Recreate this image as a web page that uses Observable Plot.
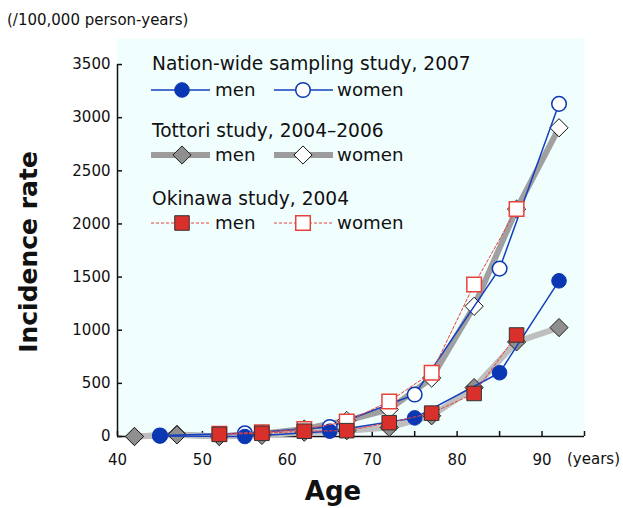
<!DOCTYPE html>
<html>
<head>
<meta charset="utf-8">
<script src="https://cdn.jsdelivr.net/npm/d3@7"></script>
<script src="https://cdn.jsdelivr.net/npm/@observablehq/plot@0.6"></script>
<style>
html, body { margin: 0; padding: 0; background: #fff; }
</style>
</head>
<body>
<div id="chart"></div>
<script>
// ---- data ----
const nationAges = [45, 55, 65, 75, 85, 92];
const nationMen = [5, 0, 50, 175, 600, 1465];
const nationWomen = [10, 30, 90, 395, 1580, 3130];

const tottoriAges = [42, 47, 52, 57, 62, 67, 72, 77, 82, 87, 92];
const tottoriMen = [0, 15, 0, 10, 40, 55, 85, 195, 460, 890, 1025];
const tottoriWomen = [0, 20, 0, 25, 70, 150, 255, 550, 1225, 2140, 2905];

const okinawaAges = [52, 57, 62, 67, 72, 77, 82, 87];
const okinawaMen = [20, 30, 50, 55, 130, 220, 405, 955];
const okinawaWomen = [25, 40, 70, 140, 330, 600, 1430, 2140];

const yTicks = [0, 500, 1000, 1500, 2000, 2500, 3000, 3500];
const xTickLabels = [40, 50, 60, 70, 80, 90];
const xTicks = [40, 45, 50, 55, 60, 65, 70, 75, 80, 85, 90, 95];

const studyTitles = ["Nation-wide sampling study, 2007", "Tottori study, 2004\u20132006", "Okinawa study, 2004"];
const sexLabels = ["men", "women"];
const unitLabel = "(/100,000 person-years)";
const yTitle = "Incidence rate";
const xTitle = "Age";
const xUnit = "(years)";

// ---- tables built from the arrays ----
const rows = (ages, men, women) => ages.map((age, i) => ({age, men: men[i], women: women[i]}));
const nation = rows(nationAges, nationMen, nationWomen);
const tottori = rows(tottoriAges, tottoriMen, tottoriWomen);
const okinawa = rows(okinawaAges, okinawaMen, okinawaWomen);

// ---- styles ----
const BG = "#f0fefe";
const BLUE = "#0a37b3";
const BLUE_LINE = "#1540bd";
const RED = "#d9302b";
const RED_LINE = "#e8423d";
const GRAY_W = "#a0a0a0";
const GRAY_M = "#bfbfbf";
const GRAY_FILL = "#8f8f8f";
const FONT = "DejaVu Sans";

const W = 623, H = 508;
const mL = 117, mR = 39, mT = 38, mB = 72;
const innerW = W - mL - mR, innerH = H - mT - mB;

const styles = [
  { // nation
    line: {stroke: BLUE_LINE, strokeWidth: 1.5},
    men: {symbol: "circle", r: 7.3, fill: BLUE, stroke: BLUE, strokeWidth: 1},
    women: {symbol: "circle", r: 7.3, fill: "white", stroke: BLUE, strokeWidth: 1.5}
  },
  { // tottori
    line: {stroke: GRAY_W, strokeWidth: 6},
    men: {symbol: "diamond2", r: 8.2, fill: GRAY_FILL, stroke: "#222", strokeWidth: 1},
    women: {symbol: "diamond2", r: 8.2, fill: "white", stroke: "#111", strokeWidth: 1}
  },
  { // okinawa
    line: {stroke: RED_LINE, strokeWidth: 1, strokeDasharray: "3,2"},
    men: {symbol: "square", r: 8.2, fill: RED, stroke: "#333", strokeWidth: 1},
    women: {symbol: "square", r: 8.2, fill: "white", stroke: RED_LINE, strokeWidth: 1.5}
  }
];

const symbolTypes = {circle: d3.symbolCircle, diamond2: d3.symbolDiamond2, square: d3.symbolSquare};

function decorations() {
  const g = d3.create("svg:g").attr("font-family", FONT).attr("fill", "#111").attr("text-anchor", "start");
  // unit label
  g.append("text").attr("x", 7).attr("y", 25).attr("font-size", 15).attr("text-anchor", "start").text(unitLabel);
  // y title
  g.append("text").attr("transform", "translate(37,252) rotate(-90)")
    .attr("text-anchor", "middle").attr("font-size", 25).attr("font-weight", "bold").text(yTitle);
  // x title
  g.append("text").attr("x", 333).attr("y", 500).attr("text-anchor", "middle")
    .attr("font-size", 26).attr("font-weight", "bold").text(xTitle);
  // x unit
  g.append("text").attr("x", 567).attr("y", 464).attr("font-size", 15).attr("text-anchor", "start").text(xUnit);

  // legend
  const titleY = [70, 137, 205];
  const lineY = [90, 155, 223];
  const segs = [{x1: 151, x2: 210, mx: 182, tx: 215}, {x1: 274, x2: 333, mx: 303, tx: 337}];
  studyTitles.forEach((title, i) => {
    g.append("text").attr("x", 152).attr("y", titleY[i]).attr("font-size", 18.6).attr("text-anchor", "start").text(title);
    const st = styles[i];
    ["men", "women"].forEach((sex, j) => {
      const s = segs[j];
      const lw = i === 1 ? 6 : st.line.strokeWidth;
      g.append("line").attr("x1", s.x1).attr("x2", s.x2).attr("y1", lineY[i]).attr("y2", lineY[i])
        .attr("stroke", i === 1 ? "#9c9c9c" : st.line.stroke).attr("stroke-width", lw)
        .attr("stroke-dasharray", st.line.strokeDasharray || null);
      const m = st[sex];
      g.append("path")
        .attr("transform", `translate(${s.mx},${lineY[i]})`)
        .attr("d", d3.symbol(symbolTypes[m.symbol], Math.PI * m.r * m.r)())
        .attr("fill", m.fill).attr("stroke", m.stroke).attr("stroke-width", m.strokeWidth);
      g.append("text").attr("x", s.tx).attr("y", lineY[i] + 5.5).attr("font-size", 18.2)
        .attr("text-anchor", "start").text(sexLabels[j]);
    });
  });
  return g.node();
}

function seriesMarks(data, st) {
  return [
    Plot.line(data, {x: "age", y: "women", ...st.line, stroke: st === styles[1] ? GRAY_W : st.line.stroke}),
    Plot.line(data, {x: "age", y: "men", ...st.line, stroke: st === styles[1] ? GRAY_M : st.line.stroke}),
    Plot.dot(data, {x: "age", y: "women", ...st.women}),
    Plot.dot(data, {x: "age", y: "men", ...st.men})
  ];
}

const chart = Plot.plot({
  width: W,
  height: H,
  marginLeft: mL,
  marginRight: mR,
  marginTop: mT,
  marginBottom: mB,
  x: {domain: [40, 95]},
  y: {domain: [0, 3745]},
  style: {fontFamily: FONT, fontSize: "15px", color: "#111", background: "white", overflow: "visible"},
  marks: [
    Plot.frame({fill: BG, stroke: null}),
    // axis lines
    Plot.ruleX([40], {y1: 0, y2: 3500, stroke: "#111", strokeWidth: 1.5}),
    Plot.ruleY([0], {x1: 40, x2: 95, stroke: "#111", strokeWidth: 1.5}),
    // inward ticks
    Plot.tickY(yTicks, {y: d => d, insetRight: innerW - 5, stroke: "#111", strokeWidth: 1.5}),
    Plot.tickX(xTicks, {x: d => d, insetTop: innerH - 5, stroke: "#111", strokeWidth: 1.5}),
    // tick labels
    Plot.axisY({ticks: yTicks, tickSize: 0, tickPadding: 7, label: null, tickFormat: d => String(d), fontSize: 15}),
    Plot.axisX({ticks: xTickLabels, tickSize: 0, tickPadding: 18, label: null, tickFormat: d => String(d), fontSize: 15}),
    // data
    ...seriesMarks(tottori, styles[1]),
    ...seriesMarks(nation, styles[0]),
    ...seriesMarks(okinawa, styles[2]),
    decorations
  ]
});

document.getElementById("chart").appendChild(chart);
</script>
</body>
</html>
